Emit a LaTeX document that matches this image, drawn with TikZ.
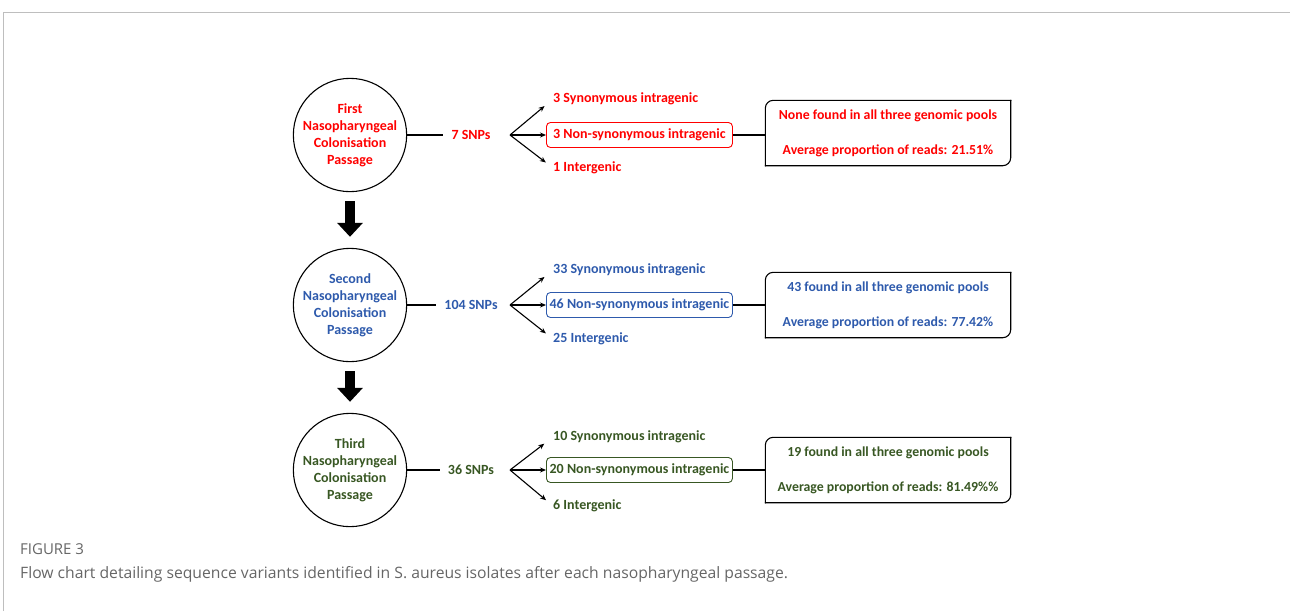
\documentclass[tikz,border=0pt]{standalone}
\usepackage{fontspec}
\setmainfont{Carlito}
\newfontfamily\capfont{Open Sans}
\usetikzlibrary{arrows.meta}
\definecolor{cred}{HTML}{FF0000}
\definecolor{cblue}{HTML}{2E5AAC}
\definecolor{cgreen}{HTML}{385723}
\definecolor{framegrey}{HTML}{BEBEBE}
\definecolor{capgrey}{HTML}{666666}
\tikzset{
  passage/.style={circle, draw=black, line width=1.1pt, minimum size=106pt, inner sep=0pt,
    align=center, font=\fontsize{14}{17}\selectfont\bfseries},
  snplabel/.style={font=\fontsize{14}{16}\selectfont\bfseries, inner sep=2pt},
  catlabel/.style={font=\fontsize{14}{16}\selectfont\bfseries, inner sep=0pt, anchor=west},
  catbox/.style={draw, rounded corners=4pt, line width=0.9pt, minimum height=25pt, minimum width=186pt,
    inner xsep=2pt, inner ysep=2pt, font=\fontsize{14}{16}\selectfont\bfseries, anchor=west},
  sumbox/.style={minimum width=245pt, minimum height=65pt, inner sep=0pt, align=center,
    font=\fontsize{13.8}{35}\selectfont\bfseries},
  sumframe/.style={draw=black, line width=1.1pt, rounded corners=8pt, line cap=rect},
  conn/.style={draw=black, line width=1.1pt},
  branch/.style={draw=black, line width=1.1pt, -{Stealth[length=6pt,width=5pt]}},
  bigarrow/.style={draw=black, line width=10pt, -{Triangle[length=14pt,width=25pt]}},
}
\begin{document}
\begin{tikzpicture}[x=1pt,y=-1pt]
\useasboundingbox (0,0) rectangle (1290,611);
% frame
\draw[framegrey, line width=0.8pt] (3,611) -- (3,12) -- (1290,12);

% ---------- row 1 ----------
\node[passage, text=cred] (c1) at (350,135) {First\\Nasopharyngeal\\Colonisation\\Passage};
\node[snplabel, text=cred] (n1) at (471,135) {7 SNPs};
\coordinate (b1) at (510,135);
\node[catlabel, text=cred] (s1) at (553,99) {3 Synonymous intragenic};
\node[catbox, draw=cred, text=cred] (x1) at (546,135) {3 Non-synonymous intragenic};
\node[catlabel, text=cred] (i1) at (553,168) {1 Intergenic};
\node[sumbox, text=cred] (m1) at (888,133) {None found in all three genomic pools\\Average proportion of reads: 21.51\%};

% ---------- row 2 ----------
\node[passage, text=cblue] (c2) at (350,305) {Second\\Nasopharyngeal\\Colonisation\\Passage};
\node[snplabel, text=cblue] (n2) at (471,305) {104 SNPs};
\coordinate (b2) at (510,305);
\node[catlabel, text=cblue] (s2) at (553,270) {33 Synonymous intragenic};
\node[catbox, draw=cblue, text=cblue] (x2) at (546,305) {46 Non-synonymous intragenic};
\node[catlabel, text=cblue] (i2) at (553,339) {25 Intergenic};
\node[sumbox, text=cblue] (m2) at (888,305) {43 found in all three genomic pools\\Average proportion of reads: 77.42\%};

% ---------- row 3 ----------
\node[passage, text=cgreen] (c3) at (350,470) {Third\\Nasopharyngeal\\Colonisation\\Passage};
\node[snplabel, text=cgreen] (n3) at (471,470) {36 SNPs};
\coordinate (b3) at (510,470);
\node[catlabel, text=cgreen] (s3) at (553,437) {10 Synonymous intragenic};
\node[catbox, draw=cgreen, text=cgreen] (x3) at (546,470) {20 Non-synonymous intragenic};
\node[catlabel, text=cgreen] (i3) at (553,506) {6 Intergenic};
\node[sumbox, text=cgreen] (m3) at (888,470) {19 found in all three genomic pools\\Average proportion of reads: 81.49\%\%};

% connectors
\foreach \r in {1,2,3}{
  \draw[conn] (c\r.east) -- ([xshift=-6pt]n\r.west);
  \draw[branch, shorten >=11pt] (b\r) -- (s\r.west);
  \draw[branch] (b\r) -- (x\r.west);
  \draw[branch, shorten >=9pt] (b\r) -- (i\r.west);
  \draw[conn] (x\r.east) -- (x\r.east -| m\r.west);
  \draw[sumframe] (m\r.south west) -- (m\r.north west) -- (m\r.north east);
  \draw[sumframe] (m\r.north east) -- (m\r.south east) -- (m\r.south west);
}
\draw[bigarrow] ([yshift=-9pt]c1.south) -- ([yshift=11pt]c2.north);
\draw[bigarrow] ([yshift=-9pt]c2.south) -- ([yshift=11pt]c3.north);

% caption
\node[anchor=west, inner sep=0pt, text=capgrey, font=\capfont\fontsize{15}{18}\selectfont] (fig) at (20,549) {FIGURE 3};
\node[anchor=west, inner sep=0pt, text=capgrey, font=\capfont\fontsize{15.7}{18}\selectfont] (cap) at (20,574) {Flow chart detailing sequence variants identified in S. aureus isolates after each nasopharyngeal passage.};
\end{tikzpicture}
\end{document}
